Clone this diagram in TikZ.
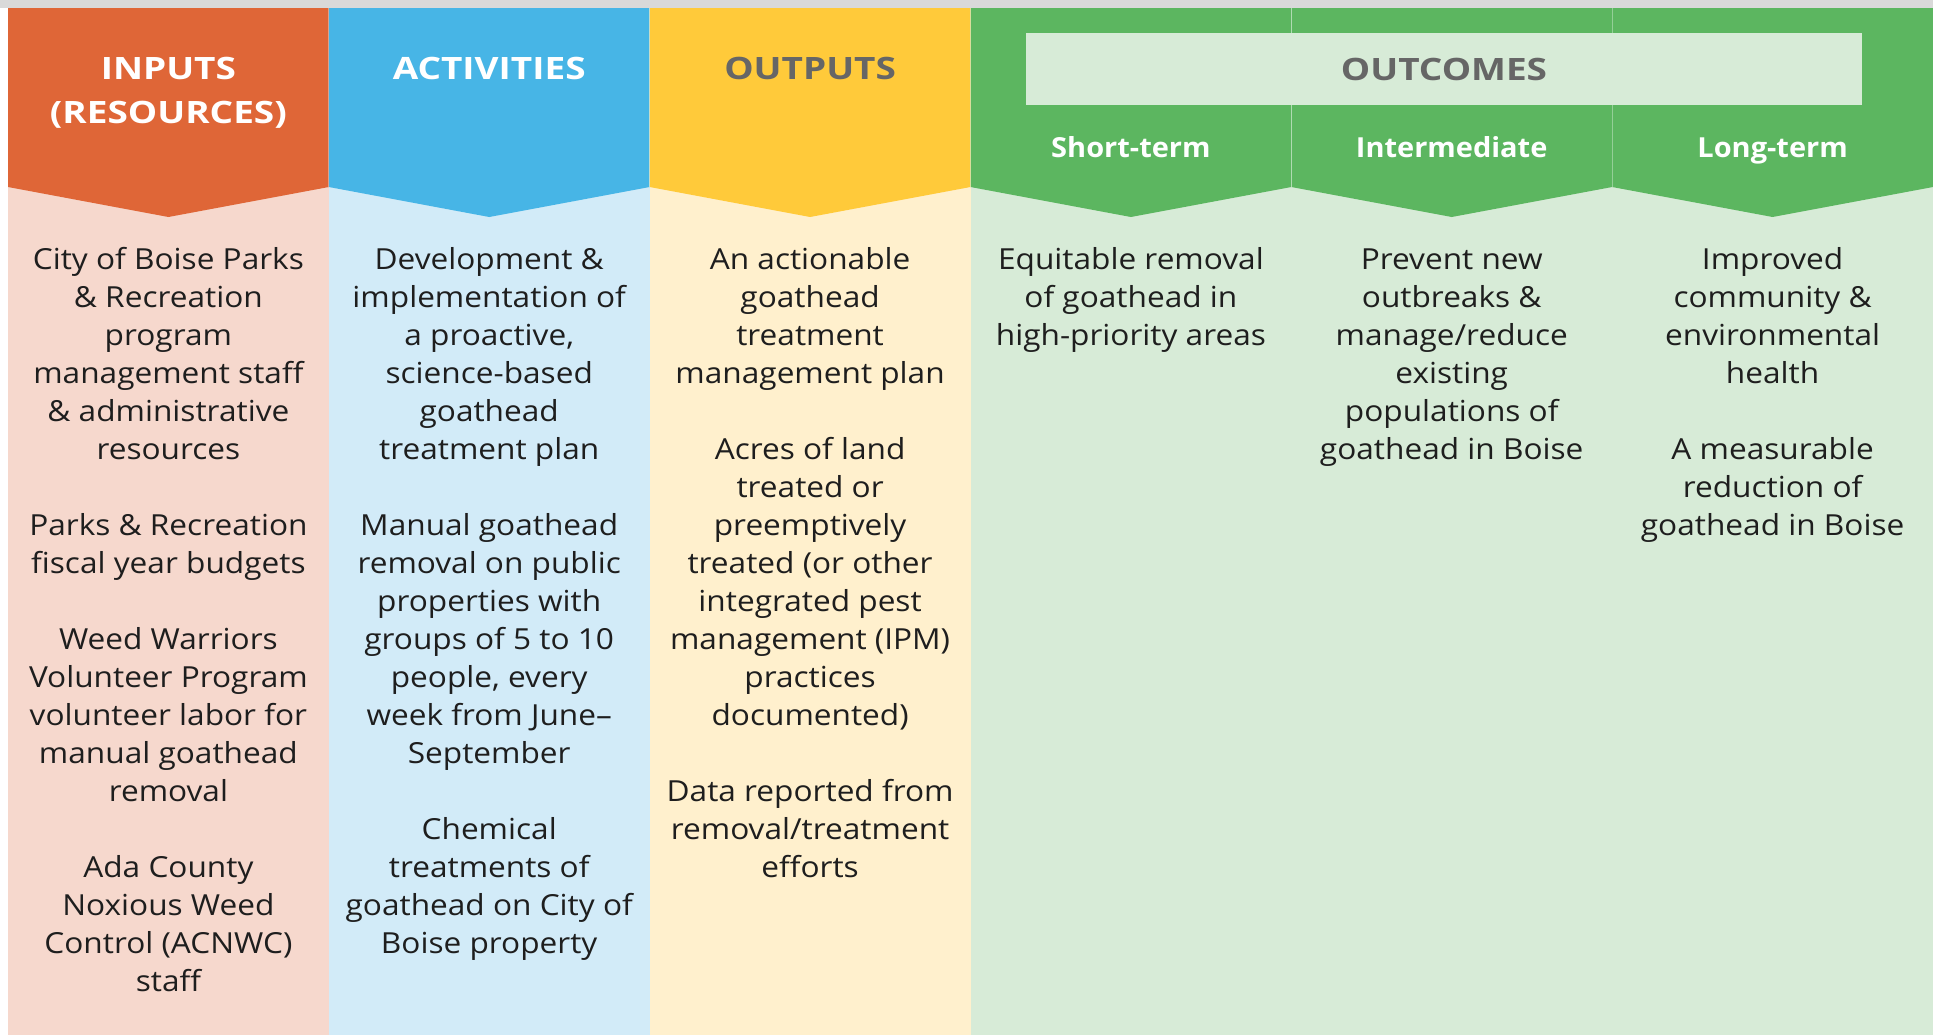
\documentclass[tikz,border=0pt]{standalone}
\usepackage{fontspec}
\setmainfont{Open Sans}
\newfontfamily\bodyfont[FakeStretch=1.09,Ligatures=TeX]{Open Sans}
\newfontfamily\headfont[FakeStretch=1.2,Ligatures=TeX]{Open Sans}
\newfontfamily\subfont[FakeStretch=1.05,Ligatures=TeX]{Open Sans}
\usepackage{tikz}

\definecolor{inputdark}{HTML}{DF6637}
\definecolor{inputlight}{HTML}{F6D8CD}
\definecolor{actdark}{HTML}{47B5E6}
\definecolor{actlight}{HTML}{D2EBF8}
\definecolor{outdark}{HTML}{FFCA3A}
\definecolor{outlight}{HTML}{FFF0CD}
\definecolor{goaldark}{HTML}{5CB660}
\definecolor{goallight}{HTML}{D7EBD7}
\definecolor{topgray}{HTML}{D9D9D9}
\definecolor{headgray}{HTML}{666666}
\definecolor{bodyblack}{HTML}{1E1E1E}

\tikzset{
  head/.style={anchor=north, inner sep=0pt, align=center, text=white,
    font=\headfont\fontsize{15.4}{22}\selectfont\bfseries},
  subhead/.style={anchor=base, inner sep=0pt, text=white,
    font=\subfont\fontsize{13.8}{19}\selectfont\bfseries},
  body/.style={anchor=north, inner sep=0pt, align=center, text=bodyblack,
    font=\bodyfont\fontsize{14.5}{19}\selectfont},
  outbox/.style={fill=goallight, inner sep=0pt, minimum width=418pt,
    minimum height=36pt, text=headgray, font=\headfont\fontsize{15.4}{22}\selectfont\bfseries}
}

\begin{document}
\begin{tikzpicture}[x=0.5pt,y=-0.5pt]
\useasboundingbox (0,0) rectangle (1933,1035);
\fill[white] (0,0) rectangle (1933,1035);
\fill[topgray] (0,0) rectangle (1933,8);

\foreach \i/\dark/\light in {0/inputdark/inputlight,1/actdark/actlight,2/outdark/outlight,
                            3/goaldark/goallight,4/goaldark/goallight,5/goaldark/goallight}{
  \pgfmathsetmacro{\xl}{8+320.83*\i}
  \pgfmathsetmacro{\xr}{8+320.83*(\i+1)}
  \pgfmathsetmacro{\xm}{8+320.83*(\i+0.5)}
  \fill[\light] (\xl,8) rectangle (\xr,1035);
  \fill[\dark] (\xl,8) -- (\xr,8) -- (\xr,187) -- (\xm,217) -- (\xl,187) -- cycle;
}
\foreach \x in {328.8,649.7,970.5,1291.3,1612.2}
  \draw[white, opacity=0.35, line width=0.4pt] (\x,8) -- (\x,187);

\node[head] (inputs) at (168.4,48.2) {\strut INPUTS\\(RESOURCES)};
\node[head] (activities) at (489.2,48.2) {\strut ACTIVITIES};
\node[head, text=headgray] (outputs) at (810.1,48.2) {\strut OUTPUTS};
\node[outbox] (outcomes) at (1444,69) {OUTCOMES};
\node[subhead] (short) at (1130.9,157) {Short-term};
\node[subhead] (inter) at (1451.7,157) {Intermediate};
\node[subhead] (long) at (1772.6,157) {Long-term};

\node[body] (inputtext) at (168.4,242.4) {\strut City of Boise Parks\\\& Recreation\\program\\management staff\\\& administrative\\resources\\[19pt]
Parks \& Recreation\\fiscal year budgets\\[19pt]
Weed Warriors\\Volunteer Program\\volunteer labor for\\manual goathead\\removal\\[19pt]
Ada County\\Noxious Weed\\Control (ACNWC)\\staff};

\node[body] (acttext) at (489.2,242.4) {\strut Development \&\\implementation of\\a proactive,\\science-based\\goathead\\treatment plan\\[19pt]
Manual goathead\\removal on public\\properties with\\groups of 5 to 10\\people, every\\week from June–\\September\\[19pt]
Chemical\\treatments of\\goathead on City of\\Boise property};

\node[body] (outtext) at (810.1,242.4) {\strut An actionable\\goathead\\treatment\\management plan\\[19pt]
Acres of land\\treated or\\preemptively\\treated (or other\\integrated pest\\management (IPM)\\practices\\documented)\\[19pt]
Data reported from\\removal/treatment\\efforts};

\node[body] (shorttext) at (1130.9,242.4) {\strut Equitable removal\\of goathead in\\high-priority areas};

\node[body] (intertext) at (1451.7,242.4) {\strut Prevent new\\outbreaks \&\\manage/reduce\\existing\\populations of\\goathead in Boise};

\node[body] (longtext) at (1772.6,242.4) {\strut Improved\\community \&\\environmental\\health\\[19pt]
A measurable\\reduction of\\goathead in Boise};
\end{tikzpicture}
\end{document}
